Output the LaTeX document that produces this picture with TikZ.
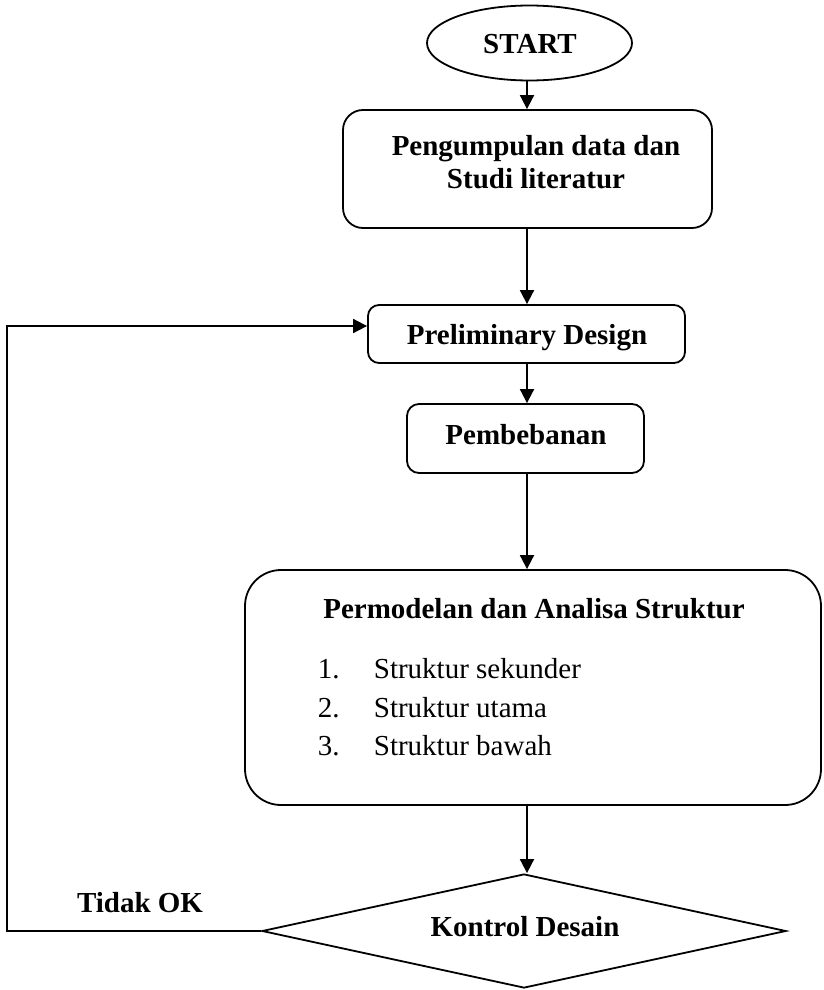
\documentclass[tikz,border=0pt]{standalone}
\usepackage{fontspec}
\setmainfont{Liberation Serif}
\usetikzlibrary{shapes.geometric,arrows.meta}
\begin{document}
\begin{tikzpicture}[x=1pt,y=-1pt,
  line width=1.8pt,
  arr/.style={-{Triangle[length=14pt,width=14pt]}},
  box/.style={draw,rectangle,inner sep=0pt},
  lab/.style={font=\fontsize{29}{34}\selectfont\bfseries,inner sep=0pt,anchor=base},
  item/.style={font=\fontsize{29}{34}\selectfont,inner sep=0pt,anchor=base west}]
\useasboundingbox (0,0) rectangle (823,990);
% spine and helper coordinates
\coordinate (spine) at (527,0);
\coordinate (fbx) at (7,0);
\coordinate (entryy) at (0,326);
% shapes
\node[draw,ellipse,minimum width=205pt,minimum height=75pt,inner sep=0pt] (start) at (529.5,43) {};
\node[box,rounded corners=20pt,minimum width=369pt,minimum height=118pt] (box1) at (527.5,169) {};
\node[box,rounded corners=11pt,minimum width=317pt,minimum height=58pt] (box2) at (526.5,334) {};
\node[box,rounded corners=12pt,minimum width=237pt,minimum height=69pt] (box3) at (525.5,438.5) {};
\node[box,rounded corners=36pt,minimum width=576pt,minimum height=235pt] (box4) at (533,687.5) {};
\node[draw,diamond,minimum width=524pt,minimum height=114pt,inner sep=0pt] (dia) at (524,931) {};
% texts
\node[lab] (tstart) at (530,53) {START};
\node[lab] (t1a) at (536,155) {Pengumpulan data dan};
\node[lab] (t1b) at (536,188) {Studi literatur};
\node[lab] (t2) at (527,344) {Preliminary Design};
\node[lab] (t3) at (526,444) {Pembebanan};
\node[lab] (t4) at (534,618) {Permodelan dan Analisa Struktur};
\node[item] (n1) at (317,678) {1.};
\node[item] (i1) at (373,678) {Struktur sekunder};
\node[item] (n2) at (317,717) {2.};
\node[item] (i2) at (373,717) {Struktur utama};
\node[item] (n3) at (317,755) {3.};
\node[item] (i3) at (373,755) {Struktur bawah};
\node[lab] (tdia) at (525,936) {Kontrol Desain};
\node[lab] (tno) at (140,912) {Tidak OK};
% connectors
\draw[arr] (start.south -| spine) -- (box1.north -| spine);
\draw[arr] (box1.south -| spine) -- (box2.north -| spine);
\draw[arr] (box2.south -| spine) -- (box3.north -| spine);
\draw[arr] (box3.south -| spine) -- (box4.north -| spine);
\draw[arr] (box4.south -| spine) -- (dia.north -| spine);
\draw[arr] (dia.west) -- (dia.west -| fbx) |- (box2.west |- entryy);
\end{tikzpicture}
\end{document}
